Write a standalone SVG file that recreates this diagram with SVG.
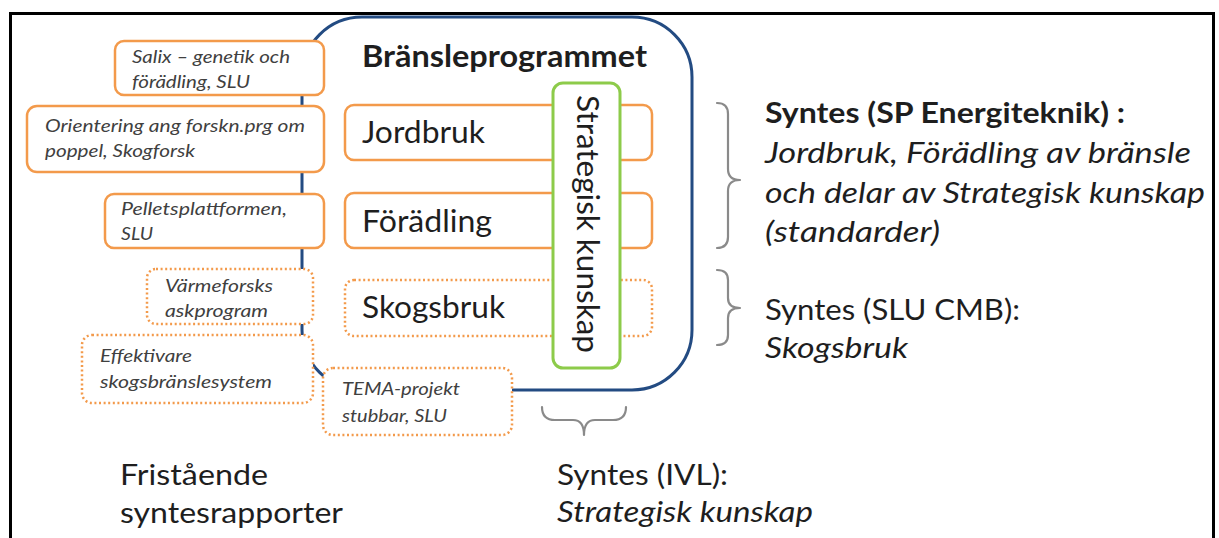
<svg xmlns="http://www.w3.org/2000/svg" width="1219" height="538" viewBox="0 0 1219 538">
<style>
.t{font-family:Lato,"Open Sans","Liberation Sans",sans-serif;fill:#1e1e1e}
.s{font-size:18px;font-style:italic;fill:#404040}
.m{font-size:30px}
.r{font-size:28px}
.i{font-style:italic}
.b{font-weight:bold}
.ob{fill:#fff;stroke:#F39A4B;stroke-width:2.5}
.od{fill:#fff;stroke:#F39A4B;stroke-width:2.5;stroke-dasharray:2 2.6}
.br{fill:none;stroke:#8a8a8a;stroke-width:2.2;stroke-linecap:round;stroke-linejoin:round}
</style>
<rect x="0" y="0" width="1219" height="538" fill="#fff"/>
<rect x="10.5" y="13.5" width="1203" height="560" fill="none" stroke="#000" stroke-width="3"/>

<g id="bransleprogrammet">
<rect x="302" y="17" width="390" height="373" rx="60" fill="#fff" stroke="#234B82" stroke-width="3"/>
<text class="t m b" x="362" y="67" textLength="285" lengthAdjust="spacingAndGlyphs">Bränsleprogrammet</text>
</g>

<g id="jordbruk">
<rect class="ob" x="345" y="105" width="307" height="55" rx="9"/>
<text class="t m" x="362" y="143" textLength="123" lengthAdjust="spacingAndGlyphs">Jordbruk</text>
</g>
<g id="foradling">
<rect class="ob" x="345" y="193" width="307" height="55" rx="9"/>
<text class="t m" x="362" y="232" textLength="130" lengthAdjust="spacingAndGlyphs">Förädling</text>
</g>
<g id="skogsbruk">
<rect class="od" x="345" y="280" width="307" height="56" rx="9"/>
<text class="t m" x="362" y="318" textLength="143" lengthAdjust="spacingAndGlyphs">Skogsbruk</text>
</g>
<g id="strategisk">
<rect x="553" y="83" width="67" height="285" rx="10" fill="#fff" stroke="#8DCB4A" stroke-width="3"/>
<text class="t m" transform="translate(577,95) rotate(90)" textLength="258" lengthAdjust="spacingAndGlyphs">Strategisk kunskap</text>
</g>

<g id="salix">
<rect class="ob" x="115" y="41" width="209" height="54" rx="9"/>
<text class="t s" x="132" y="63" textLength="158" lengthAdjust="spacingAndGlyphs">Salix – genetik och</text>
<text class="t s" x="132" y="88" textLength="118" lengthAdjust="spacingAndGlyphs">förädling, SLU</text>
</g>
<g id="orientering">
<rect class="ob" x="27" y="106" width="297" height="66" rx="10"/>
<text class="t s" x="45" y="132" textLength="260" lengthAdjust="spacingAndGlyphs">Orientering ang forskn.prg om</text>
<text class="t s" x="45" y="157" textLength="150" lengthAdjust="spacingAndGlyphs">poppel, Skogforsk</text>
</g>
<g id="pellets">
<rect class="ob" x="105" y="194" width="219" height="54" rx="9"/>
<text class="t s" x="121" y="215" textLength="166" lengthAdjust="spacingAndGlyphs">Pelletsplattformen,</text>
<text class="t s" x="121" y="240" textLength="32" lengthAdjust="spacingAndGlyphs">SLU</text>
</g>
<g id="varmeforsk">
<rect class="od" x="147" y="269" width="166" height="55" rx="9"/>
<text class="t s" x="165" y="292" textLength="108" lengthAdjust="spacingAndGlyphs">Värmeforsks</text>
<text class="t s" x="165" y="317" textLength="103" lengthAdjust="spacingAndGlyphs">askprogram</text>
</g>
<g id="effektivare">
<rect class="od" x="82" y="335" width="231" height="68" rx="10"/>
<text class="t s" x="100" y="362" textLength="92" lengthAdjust="spacingAndGlyphs">Effektivare</text>
<text class="t s" x="100" y="388" textLength="172" lengthAdjust="spacingAndGlyphs">skogsbränslesystem</text>
</g>
<g id="tema">
<rect class="od" x="323" y="368" width="189" height="67" rx="10"/>
<text class="t s" x="342" y="395" textLength="118" lengthAdjust="spacingAndGlyphs">TEMA-projekt</text>
<text class="t s" x="342" y="422" textLength="105" lengthAdjust="spacingAndGlyphs">stubbar, SLU</text>
</g>

<g id="connectors">
<path class="br" d="M717,103 Q728,103 728,114 L728,169 Q728,180 740,180 Q728,180 728,191 L728,237 Q728,248 717,248"/>
<path class="br" d="M717,270 Q728,270 728,280 L728,298 Q728,308 740,308 Q728,308 728,318 L728,335 Q728,345 717,345"/>
<path class="br" d="M542,407 Q542,420 555,420 L573,420 Q584,420 584,435 Q584,420 595,420 L613,420 Q626,420 626,407"/>
</g>

<g id="syntes-sp">
<text class="t r b" x="765" y="123" textLength="360" lengthAdjust="spacingAndGlyphs">Syntes (SP Energiteknik) :</text>
<text class="t r i" x="765" y="163" textLength="426" lengthAdjust="spacingAndGlyphs">Jordbruk, Förädling av bränsle</text>
<text class="t r i" x="765" y="203" textLength="440" lengthAdjust="spacingAndGlyphs">och delar av Strategisk kunskap</text>
<text class="t r i" x="765" y="242" textLength="175" lengthAdjust="spacingAndGlyphs">(standarder)</text>
</g>
<g id="syntes-slu">
<text class="t r" x="765" y="320" textLength="255" lengthAdjust="spacingAndGlyphs">Syntes (SLU CMB):</text>
<text class="t r i" x="765" y="358" textLength="143" lengthAdjust="spacingAndGlyphs">Skogsbruk</text>
</g>
<g id="syntes-ivl">
<text class="t r" x="557" y="485" textLength="171" lengthAdjust="spacingAndGlyphs">Syntes (IVL):</text>
<text class="t r i" x="557" y="522" textLength="256" lengthAdjust="spacingAndGlyphs">Strategisk kunskap</text>
</g>
<g id="fristaende">
<text class="t r" x="120" y="485" textLength="148" lengthAdjust="spacingAndGlyphs">Fristående</text>
<text class="t r" x="120" y="523" textLength="223" lengthAdjust="spacingAndGlyphs">syntesrapporter</text>
</g>
</svg>
